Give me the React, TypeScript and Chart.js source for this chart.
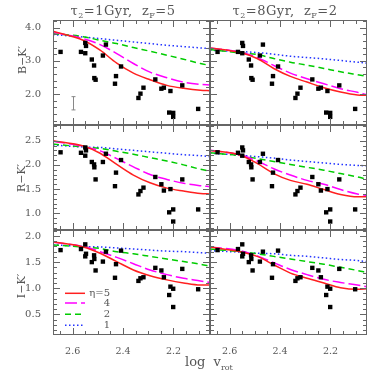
import React, { useEffect, useRef } from "react";
import { Chart, registerables } from "chart.js";

Chart.register(...registerables);

// ---------- data ----------
const galaxyLogV = [2.648, 2.567, 2.55, 2.547, 2.55, 2.524, 2.515, 2.514, 2.509, 2.48, 2.468, 2.428, 2.432, 2.408, 2.339, 2.331, 2.319, 2.272, 2.248, 2.238, 2.212, 2.217, 2.201, 2.201, 2.165, 2.102];
const colourBK = [3.27, 3.27, 3.54, 3.45, 3.23, 3.04, 2.86, 2.48, 2.43, 3.16, 3.49, 2.54, 2.31, 2.83, 1.88, 2.01, 2.19, 2.44, 2.16, 2.19, 2.09, 1.44, 1.43, 1.31, 2.26, 1.55];
const colourRK = [2.26, 2.25, 2.36, 2.3, 2.19, 2.06, 2.01, 1.95, 1.7, 2.06, 2.23, 1.84, 1.56, 2.1, 1.39, 1.46, 1.53, 1.75, 1.6, 1.47, 1.5, 1.02, 1.08, 0.83, 1.7, 1.08];
const colourIK = [1.73, 1.75, 1.84, 1.66, 1.61, 1.5, 1.63, 1.56, 1.34, 1.51, 1.7, 1.46, 1.2, 1.72, 1.14, 1.19, 1.21, 1.39, 1.34, 1.21, 1.03, 0.87, 0.99, 0.64, 1.37, 0.98];

const modelLogV = [2.678, 2.558, 2.491, 2.425, 2.359, 2.293, 2.226, 2.16, 2.093, 2.055];
const etaValues = [5, 4, 2, 1];

// tau2 = 1 Gyr, zF = 5
const bkYoung5 = [3.89, 3.62, 3.32, 2.93, 2.63, 2.43, 2.26, 2.17, 2.11, 2.1];
const bkYoung4 = [3.86, 3.67, 3.49, 3.22, 2.92, 2.66, 2.49, 2.36, 2.29, 2.27];
const bkYoung2 = [3.82, 3.73, 3.62, 3.52, 3.4, 3.29, 3.17, 3.05, 2.92, 2.86];
const bkYoung1 = [3.79, 3.72, 3.67, 3.62, 3.57, 3.52, 3.47, 3.43, 3.39, 3.37];
const rkYoung5 = [2.5, 2.39, 2.24, 2.01, 1.79, 1.63, 1.52, 1.46, 1.41, 1.4];
const rkYoung4 = [2.49, 2.38, 2.29, 2.13, 1.96, 1.8, 1.7, 1.62, 1.57, 1.55];
const rkYoung2 = [2.43, 2.37, 2.34, 2.28, 2.22, 2.15, 2.08, 2.0, 1.91, 1.87];
const rkYoung1 = [2.41, 2.37, 2.36, 2.33, 2.3, 2.27, 2.24, 2.21, 2.19, 2.17];
const ikYoung5 = [1.89, 1.79, 1.67, 1.51, 1.35, 1.24, 1.16, 1.1, 1.06, 1.06];
const ikYoung4 = [1.88, 1.8, 1.7, 1.59, 1.47, 1.35, 1.26, 1.19, 1.14, 1.11];
const ikYoung2 = [1.83, 1.79, 1.76, 1.7, 1.66, 1.61, 1.56, 1.51, 1.46, 1.42];
const ikYoung1 = [1.83, 1.8, 1.79, 1.77, 1.75, 1.73, 1.71, 1.7, 1.68, 1.67];

// tau2 = 8 Gyr, zF = 2
const bkOld5 = [3.39, 3.25, 3.07, 2.77, 2.53, 2.36, 2.19, 2.06, 1.97, 1.96];
const bkOld4 = [3.39, 3.26, 3.1, 2.86, 2.63, 2.46, 2.31, 2.16, 2.05, 1.98];
const bkOld2 = [3.34, 3.24, 3.19, 3.07, 2.96, 2.87, 2.77, 2.67, 2.58, 2.53];
const bkOld1 = [3.32, 3.28, 3.25, 3.2, 3.14, 3.1, 3.06, 3.01, 2.96, 2.93];
const rkOld5 = [2.3, 2.2, 2.03, 1.82, 1.68, 1.6, 1.49, 1.39, 1.34, 1.34];
const rkOld4 = [2.3, 2.21, 2.08, 1.92, 1.79, 1.68, 1.6, 1.49, 1.4, 1.37];
const rkOld2 = [2.25, 2.19, 2.13, 2.07, 2.01, 1.95, 1.89, 1.82, 1.75, 1.7];
const rkOld1 = [2.24, 2.2, 2.17, 2.14, 2.1, 2.07, 2.04, 2.01, 1.99, 1.98];
const ikOld5 = [1.79, 1.7, 1.61, 1.45, 1.29, 1.19, 1.1, 1.01, 0.98, 0.99];
const ikOld4 = [1.79, 1.72, 1.62, 1.49, 1.36, 1.26, 1.17, 1.11, 1.06, 1.03];
const ikOld2 = [1.75, 1.7, 1.66, 1.61, 1.56, 1.51, 1.46, 1.4, 1.34, 1.3];
const ikOld1 = [1.72, 1.69, 1.67, 1.66, 1.63, 1.61, 1.58, 1.55, 1.53, 1.51];

const xTickLabels = [2.6, 2.4, 2.2];
const bkTickLabels = [4.0, 3.0, 2.0];
const rkTickLabels = [2.5, 2.0, 1.5, 1.0];
const ikTickLabels = [2.0, 1.5, 1.0, 0.5];

const errorBarLogV = 2.6;
const errorBarLow = 1.52;
const errorBarHigh = 1.92;

// ---------- style ----------
const X_MIN = 2.055;
const X_MAX = 2.678;
const PLOT_LEFT = 53;
const PLOT_TOP = 20;
const PANEL_W = 157;
const PANEL_H = 105;
const Y_AXIS_W = 53;
const X_AXIS_H = 36;
const M = 4;
const FRAME = "#666";
const TEXT = "#555";
const FONT = "DejaVu Serif";

const curveStyles = [
  { color: "#ff2020", dash: [] as number[] },
  { color: "#ff00ff", dash: [12, 4] },
  { color: "#00cc00", dash: [6, 4] },
  { color: "#2233ff", dash: [1.5, 2.5] },
];

function steps(start: number, end: number, step: number) {
  const out: number[] = [];
  const n = Math.round((end - start) / step);
  for (let i = 0; i <= n; i++) out.push(+(start + i * step).toFixed(4));
  return out;
}

const xMajor = [2.2, 2.4, 2.6];
const xMinor = steps(2.1, 2.65, 0.05);

type Spec = {
  row: number;
  col: number;
  yMin: number;
  yMax: number;
  yLabels: number[];
  yMajor: number[];
  yMinor: number[];
  points: number[];
  curves: number[][];
  legend?: boolean;
  errorBar?: boolean;
};

const panels: Spec[] = [
  { row: 0, col: 0, yMin: 1.065, yMax: 4.232, yLabels: bkTickLabels, yMajor: [2, 3, 4], yMinor: steps(1.2, 4.2, 0.2), points: colourBK, curves: [bkYoung5, bkYoung4, bkYoung2, bkYoung1], errorBar: true },
  { row: 0, col: 1, yMin: 1.065, yMax: 4.232, yLabels: bkTickLabels, yMajor: [2, 3, 4], yMinor: steps(1.2, 4.2, 0.2), points: colourBK, curves: [bkOld5, bkOld4, bkOld2, bkOld1] },
  { row: 1, col: 0, yMin: 0.655, yMax: 2.824, yLabels: rkTickLabels, yMajor: [1, 1.5, 2, 2.5], yMinor: steps(0.7, 2.8, 0.1), points: colourRK, curves: [rkYoung5, rkYoung4, rkYoung2, rkYoung1] },
  { row: 1, col: 1, yMin: 0.655, yMax: 2.824, yLabels: rkTickLabels, yMajor: [1, 1.5, 2, 2.5], yMinor: steps(0.7, 2.8, 0.1), points: colourRK, curves: [rkOld5, rkOld4, rkOld2, rkOld1] },
  { row: 2, col: 0, yMin: 0.104, yMax: 2.115, yLabels: ikTickLabels, yMajor: [0.5, 1, 1.5, 2], yMinor: steps(0.2, 2.1, 0.1), points: colourIK, curves: [ikYoung5, ikYoung4, ikYoung2, ikYoung1], legend: true },
  { row: 2, col: 1, yMin: 0.104, yMax: 2.115, yLabels: ikTickLabels, yMajor: [0.5, 1, 1.5, 2], yMinor: steps(0.2, 2.1, 0.1), points: colourIK, curves: [ikOld5, ikOld4, ikOld2, ikOld1] },
];

const framePlugin = {
  id: "panelFrame",
  afterDatasetsDraw(chart: any, _args: any, opts: any) {
    const { ctx, chartArea: a, scales } = chart;
    const xs = scales.x;
    const ys = scales.y;
    ctx.save();
    ctx.strokeStyle = FRAME;
    ctx.lineWidth = 1;
    const L = Math.round(a.left) + 0.5;
    const R = Math.round(a.right) - 0.5;
    const T = Math.round(a.top) + 0.5;
    const B = Math.round(a.bottom) - 0.5;
    ctx.strokeRect(L, T, R - L, B - T);
    ctx.beginPath();
    const xTick = (v: number, len: number) => {
      const p = Math.round(xs.getPixelForValue(v)) + 0.5;
      ctx.moveTo(p, B);
      ctx.lineTo(p, B - len);
      ctx.moveTo(p, T);
      ctx.lineTo(p, T + len);
    };
    const yTick = (v: number, len: number) => {
      const p = Math.round(ys.getPixelForValue(v)) + 0.5;
      ctx.moveTo(L, p);
      ctx.lineTo(L + len, p);
      ctx.moveTo(R, p);
      ctx.lineTo(R - len, p);
    };
    xMinor.forEach((v) => xTick(v, 3.5));
    xMajor.forEach((v) => xTick(v, 6.5));
    opts.yMinor.forEach((v: number) => yTick(v, 3.5));
    opts.yMajor.forEach((v: number) => yTick(v, 6.5));
    ctx.stroke();

    if (opts.errorBar) {
      const ex = Math.round(xs.getPixelForValue(errorBarLogV)) + 0.5;
      const y1 = ys.getPixelForValue(errorBarLow);
      const y2 = ys.getPixelForValue(errorBarHigh);
      ctx.strokeStyle = "#888";
      ctx.beginPath();
      ctx.moveTo(ex, y1);
      ctx.lineTo(ex, y2);
      ctx.moveTo(ex - 2, y1);
      ctx.lineTo(ex + 2, y1);
      ctx.moveTo(ex - 2, y2);
      ctx.lineTo(ex + 2, y2);
      ctx.stroke();
    }

    if (opts.legend) {
      const rowsY = [63.3, 73, 84.3, 95.3];
      etaValues.forEach((eta, i) => {
        const y = a.top + rowsY[i];
        const st = curveStyles[i];
        ctx.strokeStyle = st.color;
        ctx.lineWidth = 1.5;
        ctx.setLineDash(st.dash);
        ctx.beginPath();
        ctx.moveTo(a.left + 12, y);
        ctx.lineTo(a.left + 32, y);
        ctx.stroke();
        ctx.setLineDash([]);
        ctx.fillStyle = TEXT;
        ctx.font = `10px '${FONT}'`;
        ctx.textAlign = "right";
        ctx.textBaseline = "middle";
        ctx.fillText(i === 0 ? `η=${eta}` : `${eta}`, a.left + 57, y);
      });
    }
    ctx.restore();
  },
};

function Panel({ spec }: { spec: Spec }) {
  const ref = useRef<HTMLCanvasElement>(null);
  const hasY = spec.col === 0;
  const hasX = spec.row === 2;
  const plotLeft = PLOT_LEFT + spec.col * PANEL_W;
  const plotTop = PLOT_TOP + spec.row * PANEL_H;
  const left = plotLeft - (hasY ? Y_AXIS_W : M);
  const top = plotTop - M;
  const width = PANEL_W + (hasY ? Y_AXIS_W : M) + M;
  const height = PANEL_H + M + (hasX ? X_AXIS_H : M);

  useEffect(() => {
    const datasets: any[] = [
      {
        data: galaxyLogV.map((x, i) => ({ x, y: spec.points[i] })),
        showLine: false,
        pointStyle: "rect",
        pointRadius: 3.1,
        backgroundColor: "#000",
        borderColor: "#000",
        borderWidth: 0,
      },
    ];
    spec.curves.forEach((c, i) => {
      datasets.push({
        data: modelLogV.map((x, j) => ({ x, y: c[j] })),
        showLine: true,
        pointRadius: 0,
        borderColor: curveStyles[i].color,
        borderWidth: 1.5,
        borderDash: curveStyles[i].dash,
        cubicInterpolationMode: "monotone",
        fill: false,
      });
    });

    const chart = new Chart(ref.current as HTMLCanvasElement, {
      type: "scatter",
      data: { datasets },
      options: {
        responsive: false,
        animation: false,
        events: [],
        layout: {
          padding: { left: hasY ? 0 : M, top: M, right: M, bottom: hasX ? 0 : M },
        },
        plugins: {
          legend: { display: false },
          tooltip: { enabled: false },
          panelFrame: {
            yMajor: spec.yMajor,
            yMinor: spec.yMinor,
            legend: !!spec.legend,
            errorBar: !!spec.errorBar,
          },
        } as any,
        scales: {
          x: {
            type: "linear",
            reverse: true,
            min: X_MIN,
            max: X_MAX,
            display: hasX,
            grid: { display: false },
            border: { display: false },
            ticks: {
              autoSkip: false,
              maxRotation: 0,
              padding: 3,
              color: TEXT,
              font: { family: FONT, size: 9.5 },
              callback: (v: any) => Number(v).toFixed(1),
            },
            afterBuildTicks: (s: any) => {
              s.ticks = xTickLabels.map((value) => ({ value }));
            },
            afterFit: (s: any) => {
              if (!hasX) return;
              s.height = X_AXIS_H;
              s.paddingLeft = 0;
              s.paddingRight = 0;
            },
          },
          y: {
            type: "linear",
            min: spec.yMin,
            max: spec.yMax,
            display: hasY,
            grid: { display: false },
            border: { display: false },
            ticks: {
              autoSkip: false,
              padding: 4,
              color: TEXT,
              font: { family: FONT, size: 10 },
              callback: (v: any) => Number(v).toFixed(1),
            },
            afterBuildTicks: (s: any) => {
              s.ticks = spec.yLabels.map((value) => ({ value }));
            },
            afterFit: (s: any) => {
              if (!hasY) return;
              s.width = Y_AXIS_W;
              s.paddingTop = 0;
              s.paddingBottom = 0;
            },
          },
        },
      } as any,
      plugins: [framePlugin],
    });
    return () => chart.destroy();
  }, []);

  return (
    <canvas
      ref={ref}
      width={width}
      height={height}
      style={{ position: "absolute", left, top, width, height }}
    />
  );
}

const textStyle: React.CSSProperties = {
  position: "absolute",
  fontFamily: FONT,
  color: TEXT,
  whiteSpace: "nowrap",
  lineHeight: 1,
};

function YTitle({ text, cx, cy }: { text: string; cx: number; cy: number }) {
  return (
    <div
      style={{
        ...textStyle,
        fontSize: 11,
        left: cx,
        top: cy,
        transform: "translate(-50%, -50%) rotate(-90deg)",
      }}
    >
      {text}
    </div>
  );
}

export default function App() {
  return (
    <div
      style={{
        position: "fixed",
        left: 0,
        top: 0,
        width: 382,
        height: 382,
        background: "#fff",
        overflow: "hidden",
      }}
    >
      {panels.map((p, i) => (
        <Panel key={i} spec={p} />
      ))}
      <div style={{ ...textStyle, fontSize: 13, left: 123, top: 12, transform: "translate(-50%, -50%)", letterSpacing: 0.5 }}>
        τ<sub style={{ fontSize: 8 }}>2</sub>=1Gyr,&nbsp; z<sub style={{ fontSize: 8 }}>F</sub>=5
      </div>
      <div style={{ ...textStyle, fontSize: 13, left: 285, top: 12, transform: "translate(-50%, -50%)", letterSpacing: 0.5 }}>
        τ<sub style={{ fontSize: 8 }}>2</sub>=8Gyr,&nbsp; z<sub style={{ fontSize: 8 }}>F</sub>=2
      </div>
      <YTitle text="B−K′" cx={22} cy={60} />
      <YTitle text="R−K′" cx={21} cy={178} />
      <YTitle text="I−K′" cx={21} cy={286} />
      <div style={{ ...textStyle, fontSize: 13, left: 185, top: 355 }}>
        log&nbsp; v<sub style={{ fontSize: 8 }}>rot</sub>
      </div>
    </div>
  );
}
